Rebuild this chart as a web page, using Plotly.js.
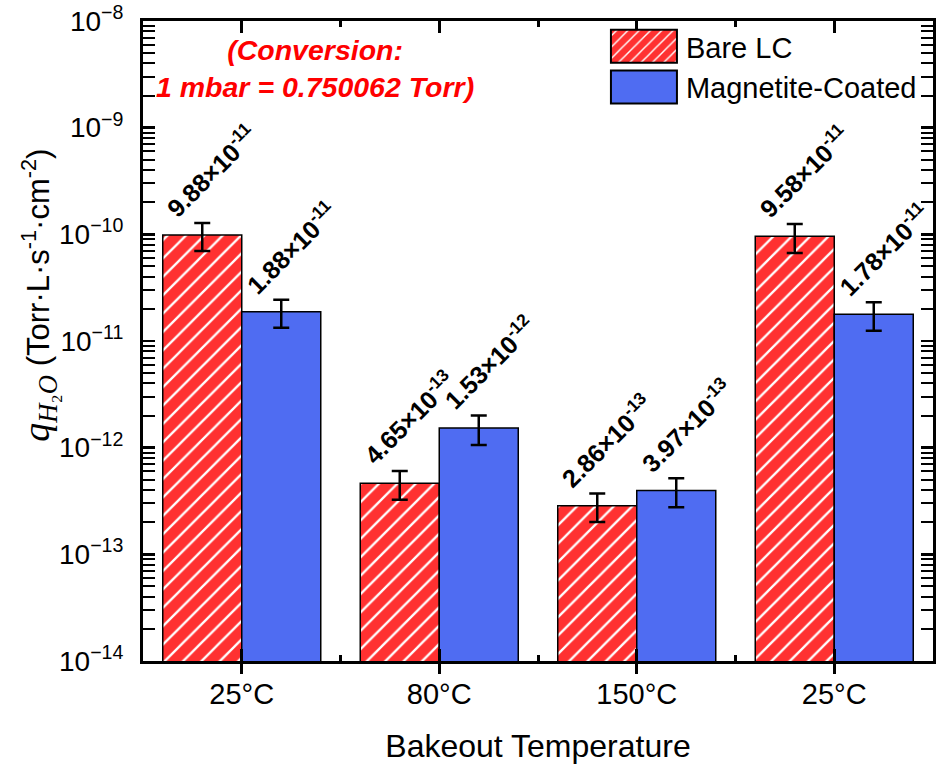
<!DOCTYPE html>
<html>
<head>
<meta charset="utf-8">
<script src="https://cdn.plot.ly/plotly-3.0.1.min.js"></script>
<style>
  html, body { margin: 0; padding: 0; background: #ffffff; }
  #chart { width: 937px; height: 768px; }
</style>
</head>
<body>
<div id="chart"></div>
<script>
// Bakeout temperature steps (the last one is the return to room temperature)
const categories = ['25°C', '80°C', '150°C', '25°C'];

// Water outgassing rate, Torr·L·s^-1·cm^-2
const bareLC = [9.88e-11, 4.65e-13, 2.86e-13, 9.58e-11];
const bareErr = [2.9e-11, 1.4e-13, 0.85e-13, 2.9e-11];
const coated = [1.88e-11, 1.53e-12, 3.97e-13, 1.78e-11];
const coatedErr = [0.55e-11, 0.47e-12, 1.2e-13, 0.53e-11];

const seriesNames = ['Bare LC', 'Magnetite-Coated'];

// Decades shown on the log axis
const yExponents = [-14, -13, -12, -11, -10, -9, -8];

const RED = '#ff3131';
const BLUE = '#4f6cf2';
const FONT = 'Arial, "Liberation Sans", sans-serif';

const xIdx = categories.map((_, i) => i);
const yTickVals = yExponents.map(e => Math.pow(10, e));
const yTickText = yExponents.map(e => '10<sup>−' + Math.abs(e) + '</sup>');

function sciLabel(v) {
  const e = Math.floor(Math.log10(v) + 1e-9);
  const m = v / Math.pow(10, e);
  return '<b>' + m.toFixed(2) + '×10<sup>-' + Math.abs(e) + '</sup></b>';
}

const traces = [
  {
    type: 'bar', name: seriesNames[0], x: xIdx, y: bareLC,
    marker: {
      color: RED,
      line: { color: '#000', width: 1.5 },
      pattern: { shape: '/', fgcolor: '#ffffff', bgcolor: RED, size: 13, solidity: 0.18 }
    },
    error_y: { type: 'data', array: bareErr, visible: true, color: '#000', thickness: 2.5, width: 8 }
  },
  {
    type: 'bar', name: seriesNames[1], x: xIdx, y: coated,
    marker: { color: BLUE, line: { color: '#000', width: 1.5 } },
    error_y: { type: 'data', array: coatedErr, visible: true, color: '#000', thickness: 2.5, width: 8 }
  }
];

// Value labels, rotated, sitting on top of each error bar
const annotations = [];
[[bareLC, bareErr, -0.2, -46], [coated, coatedErr, 0.2, -45]].forEach(([vals, errs, off, shift]) => {
  vals.forEach((v, i) => {
    annotations.push({
      x: i + off, y: Math.log10(v + errs[i]), xref: 'x', yref: 'y',
      text: sciLabel(v), showarrow: false, textangle: -45,
      xanchor: 'left', yanchor: 'bottom', xshift: shift, yshift: -2,
      font: { family: FONT, size: 25, color: '#000' }
    });
  });
});

annotations.push({
  xref: 'paper', yref: 'paper', x: 0.218, y: 0.926,
  xanchor: 'center', yanchor: 'middle', align: 'center', showarrow: false,
  text: '<b><i>(Conversion:<br>1 mbar = 0.750062 Torr)</i></b>',
  font: { family: FONT, size: 28.5, color: '#ff0000' }
});

// Y axis title, set as a rotated text beside the tick labels
annotations.push({
  xref: 'paper', yref: 'paper', x: -0.132, y: 0.572,
  xanchor: 'center', yanchor: 'middle', showarrow: false, textangle: -90,
  text: '<span style="font-family:\'Liberation Serif\';font-size:38px"><i>q</i><sub><i>H</i>₂<i>O</i></sub></span> (Torr·L·s<sup>-1</sup>·cm<sup>-2</sup>)',
  font: { family: FONT, size: 31, color: '#000' }
});

const axisCommon = {
  showline: true, linecolor: '#000', linewidth: 3, mirror: 'allticks',
  showgrid: false, zeroline: false, tickcolor: '#000'
};

const layout = {
  width: 937, height: 768,
  margin: { l: 143, r: 4, t: 21, b: 107 },
  paper_bgcolor: '#ffffff', plot_bgcolor: '#ffffff',
  font: { family: FONT, color: '#000' },
  barmode: 'group', bargap: 0.2, bargroupgap: 0,
  showlegend: true,
  legend: {
    x: 0.586, y: 1.0, xanchor: 'left', yanchor: 'top',
    bgcolor: 'rgba(0,0,0,0)', borderwidth: 0,
    font: { family: FONT, size: 29, color: '#000' },
    itemwidth: 70, traceorder: 'normal'
  },
  xaxis: Object.assign({}, axisCommon, {
    range: [-0.5, 3.5],
    tickmode: 'array', tickvals: xIdx, ticktext: categories,
    ticks: 'inside', ticklen: 12, tickwidth: 3,
    tickfont: { family: FONT, size: 29 },
    ticklabelstandoff: 5,
    minor: { tickvals: [0.5, 1.5, 2.5], ticks: 'inside', ticklen: 6, tickwidth: 3, tickcolor: '#000' },
    title: { text: 'Bakeout Temperature', font: { family: FONT, size: 32 }, standoff: 26 }
  }),
  xaxis2: {
    overlaying: 'x', matches: 'x', range: [-0.5, 3.5], side: 'bottom',
    tickmode: 'array', tickvals: xIdx, showticklabels: false,
    ticks: 'outside', ticklen: 12, tickwidth: 3, tickcolor: '#000',
    showline: false, showgrid: false, zeroline: false
  },
  yaxis: Object.assign({}, axisCommon, {
    type: 'log', range: [-14, -8],
    tickmode: 'array', tickvals: yTickVals, ticktext: yTickText,
    ticks: 'inside', ticklen: 12, tickwidth: 2.5,
    tickfont: { family: FONT, size: 28 },
    ticklabelstandoff: 11,
    minor: { dtick: 'D1', ticks: 'inside', ticklen: 6, tickwidth: 2, tickcolor: '#000' }
  }),
  annotations: annotations
};

// Invisible trace so the outer tick layer on xaxis2 is drawn
traces.push({ type: 'scatter', x: xIdx, y: bareLC, xaxis: 'x2', yaxis: 'y',
  mode: 'markers', marker: { opacity: 0 }, showlegend: false, hoverinfo: 'skip' });

Plotly.newPlot('chart', traces, layout, { displayModeBar: false, staticPlot: true }).then(gd => {
  // Large legend swatches: 66 x 33 boxes just left of the legend text
  gd.querySelectorAll('.legend .traces').forEach(item => {
    const path = item.querySelector('.legendpoints path');
    const text = item.querySelector('text.legendtext');
    if (!path || !text) return;
    const pr = path.getBoundingClientRect();
    const tr = text.getBoundingClientRect();
    const cx = pr.left + pr.width / 2;
    const right = tr.left - 9 - cx;
    const left = right - 66;
    path.setAttribute('d', `M${left},${-16.5}H${right}V${16.5}H${left}Z`);
    path.style.strokeWidth = '2px';
    path.style.stroke = '#000';
  });
});
</script>
</body>
</html>
